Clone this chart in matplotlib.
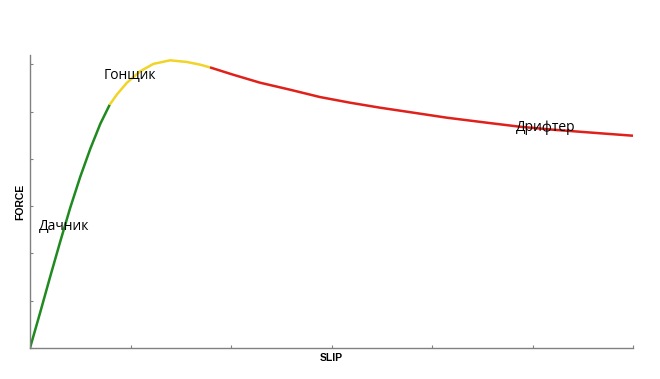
import matplotlib
matplotlib.use("Agg")
import matplotlib.pyplot as plt

slip = [0.0, 0.10, 0.20, 0.30, 0.40, 0.50, 0.60, 0.70, 0.793,
        0.863, 0.962, 1.095, 1.227, 1.393, 1.559, 1.692, 1.791,
        2.020, 2.289, 2.587, 2.886, 3.184, 3.483, 3.751, 4.149,
        4.547, 4.876, 5.204, 5.602, 6.000]
force = [0.0, 0.742, 1.504, 2.246, 2.966, 3.623, 4.216, 4.746, 5.148,
         5.360, 5.608, 5.854, 6.011, 6.087, 6.053, 5.996, 5.938,
         5.784, 5.614, 5.466, 5.310, 5.191, 5.085, 5.000, 4.873,
         4.767, 4.682, 4.619, 4.555, 4.492]

# segment boundaries (indices into the arrays)
green_end = 8
yellow_end = 16

labels = ["Дачник", "Гонщик", "Дрифтер"]
label_x = [0.09, 0.73, 4.83]
label_y = [2.57, 5.77, 4.67]

x_ticks = [0, 1, 2, 3, 4, 5, 6]
y_ticks = [0, 1, 2, 3, 4, 5, 6]

fig = plt.figure(figsize=(6.6, 3.79), dpi=100)
ax = fig.add_axes([30/660, 1-348/379, (633-30)/660, (348-55)/379])

lw = 1.8
ax.plot(slip[:green_end+1], force[:green_end+1], color="#1f8a1f", lw=lw,
        solid_capstyle="butt", solid_joinstyle="round")
ax.plot(slip[green_end:yellow_end+1], force[green_end:yellow_end+1], color="#f0d428", lw=lw,
        solid_capstyle="butt", solid_joinstyle="round")
ax.plot(slip[yellow_end:], force[yellow_end:], color="#e0201a", lw=lw,
        solid_capstyle="butt", solid_joinstyle="round")

ax.set_xlim(0, 6)
ax.set_ylim(0, 6.2)
ax.set_xticks(x_ticks)
ax.set_yticks(y_ticks)
ax.set_xticklabels([])
ax.set_yticklabels([])
ax.tick_params(direction="in", length=2.5, width=0.8, color="#808080")
for s in ["top", "right"]:
    ax.spines[s].set_visible(False)
for s in ["left", "bottom"]:
    ax.spines[s].set_color("#808080")
    ax.spines[s].set_linewidth(1.0)

ax.set_xlabel("SLIP", fontsize=7.5, fontweight="bold", family="Liberation Sans", labelpad=0)
ax.set_ylabel("FORCE", fontsize=7.5, fontweight="bold", family="Liberation Sans", labelpad=0)

for t, x, y in zip(labels, label_x, label_y):
    ax.text(x, y, t, fontsize=10, family="Open Sans", color="black", ha="left", va="center")

fig.savefig("out.png", dpi=100)
